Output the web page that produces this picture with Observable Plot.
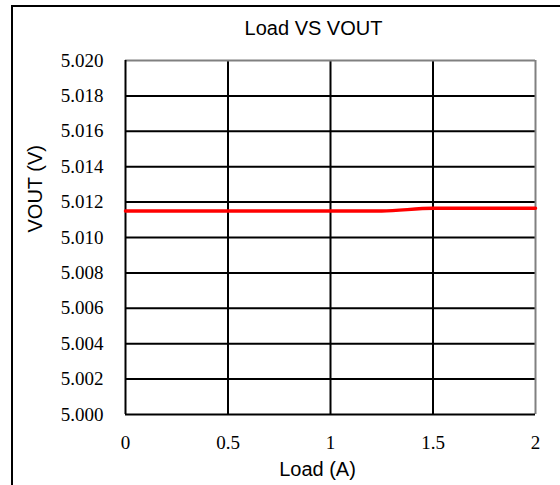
<!DOCTYPE html>
<html>
<head>
<meta charset="utf-8">
<script src="https://cdn.jsdelivr.net/npm/d3@7"></script>
<script src="https://cdn.jsdelivr.net/npm/@observablehq/plot@0.6"></script>
<style>
  html, body { margin: 0; padding: 0; background: #fff; overflow: hidden; }
  #wrap { position: relative; width: 560px; height: 485px; overflow: hidden; }
  #outer { position: absolute; left: 11px; top: 5px; width: 700px; height: 700px; border: 2px solid #000; box-sizing: border-box; pointer-events: none; }
  #chart { position: absolute; left: 0; top: 0; }
</style>
</head>
<body>
<div id="wrap">
  <div id="outer"></div>
  <div id="chart"></div>
</div>
<script>
// Data
const title = "Load VS VOUT";
const xLabel = "Load (A)";
const yLabel = "VOUT (V)";
const loadA = [0, 0.25, 0.5, 0.75, 1, 1.25, 1.5, 1.75, 2];
const voutV = [5.0115, 5.0115, 5.0115, 5.0115, 5.0115, 5.0115, 5.01165, 5.01165, 5.01165];
const xTicks = [0, 0.5, 1, 1.5, 2];
const xTickLabels = ["0", "0.5", "1", "1.5", "2"];
const yTicks = [5.000, 5.002, 5.004, 5.006, 5.008, 5.010, 5.012, 5.014, 5.016, 5.018, 5.020];

const data = loadA.map((x, i) => ({x, y: voutV[i]}));
const xDomain = [xTicks[0], xTicks[xTicks.length - 1]];
const yDomain = [yTicks[0], yTicks[yTicks.length - 1]];

const serif = "'Liberation Serif', 'Times New Roman', serif";
const sans = "'Liberation Sans', Arial, sans-serif";

const chart = Plot.plot({
  width: 560,
  height: 485,
  marginLeft: 125,
  marginRight: 25,
  marginTop: 60,
  marginBottom: 71,
  style: {background: "transparent", fontFamily: serif, fontSize: "19px", color: "#000"},
  x: {domain: xDomain, ticks: xTicks, tickSize: 0, tickPadding: 21, label: null,
      tickFormat: d => xTickLabels[xTicks.indexOf(d)]},
  y: {domain: yDomain, ticks: yTicks, tickSize: 0, tickPadding: 22, tickFormat: d3.format(".3f"), label: null},
  marks: [
    Plot.ruleY(yTicks.slice(1, -1), {stroke: "#000", strokeWidth: 2}),
    Plot.ruleX(xTicks.slice(1, -1), {stroke: "#000", strokeWidth: 2}),
    Plot.ruleY([yDomain[1]], {stroke: "#808080", strokeWidth: 2}),
    Plot.ruleX([xDomain[1]], {stroke: "#808080", strokeWidth: 2}),
    Plot.ruleY([yDomain[0]], {stroke: "#000", strokeWidth: 2}),
    Plot.ruleX([xDomain[0]], {stroke: "#000", strokeWidth: 2}),
    Plot.line(data, {x: "x", y: "y", stroke: "#ff0000", strokeWidth: 3.5, curve: "monotone-x"}),
    Plot.text([title], {frameAnchor: "top", lineAnchor: "middle", dy: -32, dx: -17, fontFamily: sans, fontSize: 20, fill: "#000"}),
    Plot.text([xLabel], {frameAnchor: "bottom", lineAnchor: "middle", dy: 55, dx: -13, fontFamily: sans, fontSize: 20, fill: "#000"}),
    Plot.text([yLabel], {frameAnchor: "left", lineAnchor: "middle", rotate: -90, dx: -90, dy: -5, fontFamily: sans, fontSize: 20, fill: "#000"})
  ]
});
document.getElementById("chart").appendChild(chart);
</script>
</body>
</html>
